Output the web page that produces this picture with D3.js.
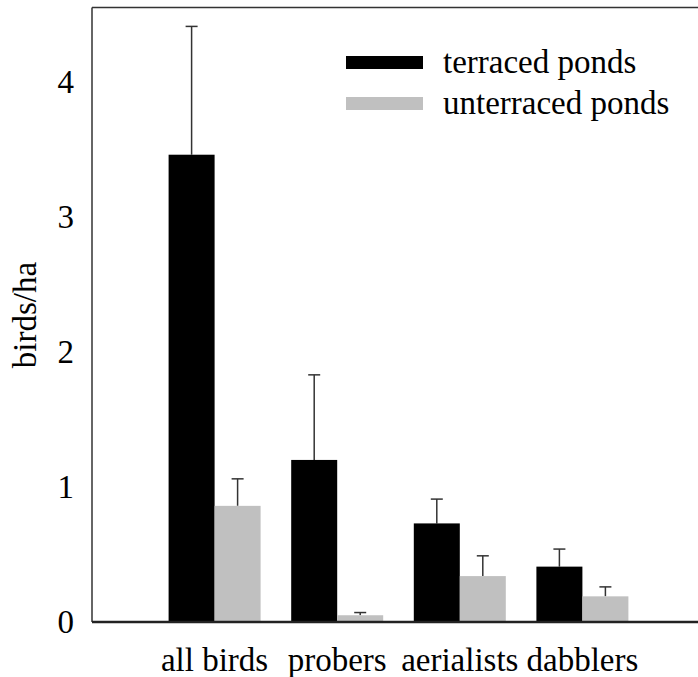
<!DOCTYPE html>
<html>
<head>
<meta charset="utf-8">
<script src="https://cdn.jsdelivr.net/npm/d3@7"></script>
<style>
  body { margin: 0; background: #fff; }
  svg text { font-family: "Liberation Serif", Tinos, "Times New Roman", Times, "DejaVu Serif", serif; fill: #000; }
</style>
</head>
<body>
<div id="chart"></div>
<script>
//data
var categories = ["all birds", "probers", "aerialists", "dabblers"];
var seriesNames = ["terraced ponds", "unterraced ponds"];
var terraced = [3.46, 1.2, 0.73, 0.41];
var terracedErr = [0.95, 0.63, 0.18, 0.13];
var unterraced = [0.86, 0.05, 0.34, 0.19];
var unterracedErr = [0.2, 0.02, 0.15, 0.07];
var yTicks = [0, 1, 2, 3, 4];

var colors = ["#000000", "#c0c0c0"];
var serif = "'Liberation Serif', Tinos, 'Times New Roman', Times, 'DejaVu Serif', serif";

var W = 698, H = 677;
var plotL = 92, plotR = 698, plotT = 7.5, plotB = 622;

var svg = d3.select("#chart")
            .append("svg")
            .attr("width", W)
            .attr("height", H);

var xScale = d3.scalePoint()
               .domain(categories)
               .range([plotL, 705])
               .padding(1);

var subScale = d3.scaleBand()
                 .domain(seriesNames)
                 .range([-46, 46]);

var yScale = d3.scaleLinear()
               .domain([0, 4.55])
               .range([plotB, plotT]);

//build rows for bars
var rows = [];
categories.forEach(function(c, i){
  rows.push({cat: c, s: seriesNames[0], v: terraced[i], e: terracedErr[i], col: colors[0]});
  rows.push({cat: c, s: seriesNames[1], v: unterraced[i], e: unterracedErr[i], col: colors[1]});
});

function barMid(d){
  return xScale(d.cat) + subScale(d.s) + subScale.bandwidth()/2;
}

//error bars (upper only)
var capW = 12;
var err = svg.selectAll(".err")
             .data(rows)
             .enter()
             .append("g")
             .attr("class", "err")
             .attr("stroke", "#333")
             .attr("stroke-width", 1.5);

err.append("line")
   .attr("x1", barMid)
   .attr("x2", barMid)
   .attr("y1", function(d){ return yScale(d.v); })
   .attr("y2", function(d){ return yScale(d.v + d.e); });

err.append("line")
   .attr("x1", function(d){ return barMid(d) - capW/2; })
   .attr("x2", function(d){ return barMid(d) + capW/2; })
   .attr("y1", function(d){ return yScale(d.v + d.e); })
   .attr("y2", function(d){ return yScale(d.v + d.e); });

//bars
svg.selectAll(".bar")
   .data(rows)
   .enter()
   .append("rect")
   .attr("class", "bar")
   .attr("x", function(d){ return xScale(d.cat) + subScale(d.s); })
   .attr("width", subScale.bandwidth())
   .attr("y", function(d){ return yScale(d.v); })
   .attr("height", function(d){ return yScale(0) - yScale(d.v); })
   .attr("fill", function(d){ return d.col; });

//frame: left, top, bottom (no right edge)
svg.append("line")
   .attr("x1", plotL).attr("x2", plotL)
   .attr("y1", plotT).attr("y2", plotB)
   .attr("stroke", "#333").attr("stroke-width", 1.5);

svg.append("line")
   .attr("x1", plotL).attr("x2", plotR)
   .attr("y1", plotT).attr("y2", plotT)
   .attr("stroke", "#333").attr("stroke-width", 1.5);

svg.append("line")
   .attr("x1", plotL).attr("x2", plotR)
   .attr("y1", plotB).attr("y2", plotB)
   .attr("stroke", "#222").attr("stroke-width", 2.5);

//y tick labels
svg.selectAll(".ytick")
   .data(yTicks)
   .enter()
   .append("text")
   .attr("class", "ytick")
   .attr("x", 74)
   .attr("y", function(d){ return yScale(d); })
   .attr("dy", "0.33em")
   .attr("text-anchor", "end")
   .attr("font-family", serif)
   .style("font-size", "33px")
   .text(function(d){ return d; });

//category labels
svg.selectAll(".xlab")
   .data(categories)
   .enter()
   .append("text")
   .attr("class", "xlab")
   .attr("x", function(d){ return xScale(d); })
   .attr("y", 671)
   .attr("text-anchor", "middle")
   .attr("font-family", serif)
   .style("font-size", "33px")
   .text(function(d){ return d; });

//y axis title
svg.append("text")
   .attr("transform", "translate(36," + 315 + ") rotate(-90)")
   .attr("text-anchor", "middle")
   .attr("font-family", serif)
   .style("font-size", "33px")
   .text("birds/ha");

//legend
var legend = svg.selectAll(".legend")
                .data(seriesNames)
                .enter()
                .append("g")
                .attr("class", "legend")
                .attr("transform", function(d, i){ return "translate(346," + (56 + i*41) + ")"; });

legend.append("rect")
      .attr("width", 77)
      .attr("height", 13)
      .attr("fill", function(d, i){ return colors[i]; });

legend.append("text")
      .attr("x", 97)
      .attr("y", 17)
      .attr("font-family", serif)
      .style("font-size", "33px")
      .text(function(d){ return d; });
</script>
</body>
</html>
